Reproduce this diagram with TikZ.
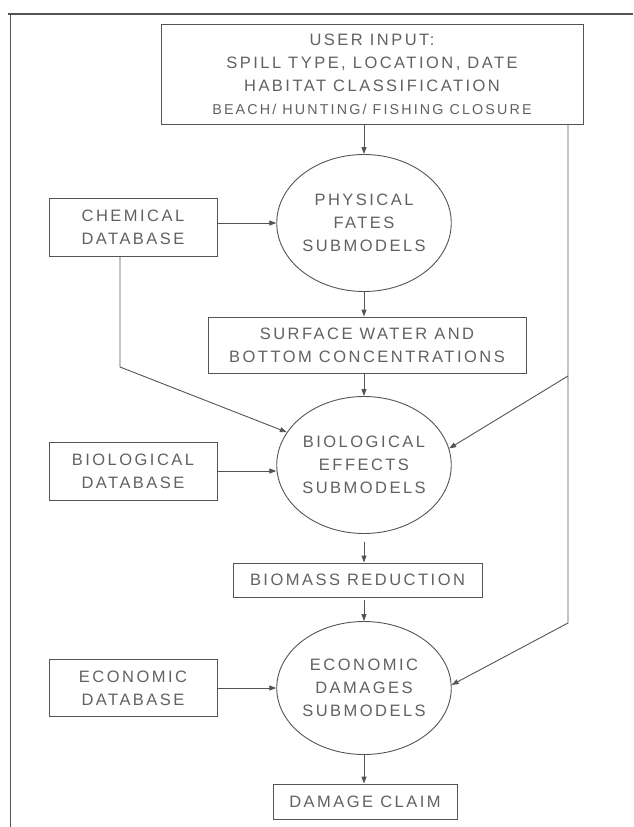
\documentclass[tikz,border=0pt]{standalone}
\usepackage{fontspec}
\setmainfont{Liberation Sans}[LetterSpace=15]
\usetikzlibrary{shapes.geometric, arrows.meta}

\definecolor{linegray}{gray}{0.33}
\definecolor{textgray}{gray}{0.38}

\begin{document}
\begin{tikzpicture}[
    x=1pt, y=-1pt,
    >={Triangle[length=7pt,width=5pt]},
    every node/.style={text=textgray, inner sep=0pt, align=center,
        font=\fontsize{16.5}{23}\selectfont},
    box/.style={draw=linegray, line width=0.9pt, rectangle},
    submodel/.style={draw=linegray, line width=0.9pt, ellipse,
        minimum width=167pt, minimum height=137pt},
    link/.style={->, draw=linegray, line width=0.9pt},
    frame/.style={draw=linegray, line width=1.6pt}
]
    \useasboundingbox (0,0) rectangle (633,827);

    % page frame (left and top only)
    \draw[frame] (8,14) -- (633,14);
    \draw[frame] (10.5,14) -- (10.5,827);

    % Input
    \node[box, minimum width=422pt, minimum height=100pt] (UserIn) at (372,74)
        {USER INPUT:\\ SPILL TYPE, LOCATION, DATE\\ HABITAT CLASSIFICATION\\
         {\fontsize{14.3}{22}\selectfont BEACH/ HUNTING/ FISHING CLOSURE}};

    % Centre column
    \node[submodel, below of=UserIn, node distance=149pt, xshift=-8pt] (Physical)
        {PHYSICAL\\ FATES\\ SUBMODELS};
    \node[box, minimum width=318pt, minimum height=56pt,
          below of=Physical, node distance=122pt, xshift=3pt] (Surface)
        {SURFACE WATER AND\\ BOTTOM CONCENTRATIONS};
    \node[submodel, below of=Surface, node distance=120pt, xshift=-3pt] (Biological)
        {BIOLOGICAL\\ EFFECTS\\ SUBMODELS};
    \node[box, minimum width=249pt, minimum height=34pt,
          below of=Biological, node distance=115pt, xshift=-6.5pt] (Biomass)
        {BIOMASS REDUCTION};
    \node[submodel, minimum height=133pt,
          below of=Biomass, node distance=108pt, xshift=6.5pt] (Economic)
        {ECONOMIC\\ DAMAGES\\ SUBMODELS};
    \node[box, minimum width=184pt, minimum height=35pt,
          below of=Economic, node distance=113.5pt, xshift=1pt] (Claim)
        {DAMAGE CLAIM};

    % Databases
    \node[box, minimum width=168pt, minimum height=58pt,
          left of=Physical, node distance=231pt, yshift=-4pt] (ChemDB)
        {CHEMICAL\\ DATABASE};
    \node[box, minimum width=168pt, minimum height=58pt,
          left of=Biological, node distance=231pt, yshift=-6pt] (BioDB)
        {BIOLOGICAL\\ DATABASE};
    \node[box, minimum width=168pt, minimum height=57pt,
          left of=Economic, node distance=231pt] (EconDB)
        {ECONOMIC\\ DATABASE};

    % bend points
    \coordinate (chemDrop) at ([xshift=-13pt]ChemDB.south);
    \coordinate (chemBend) at (120,367);
    \coordinate (fbX) at (568,0);
    \coordinate (fbBend1) at (568,376);
    \coordinate (fbBend2) at (568,623);

    % Main flow
    \draw[link] (UserIn.south -| Physical.north) -- (Physical.north);
    \draw[link] (Physical.south) -- (Physical.south |- Surface.north);
    \draw[link] (Surface.south -| Biological.north) -- (Biological.north);
    \draw[link, shorten <=8pt] (Biological.south) -- (Biological.south |- Biomass.north);
    \draw[link, shorten <=3pt] (Biomass.south -| Economic.north) -- (Economic.north);
    \draw[link] (Economic.south) -- (Economic.south |- Claim.north);

    % Database inputs
    \draw[link] (ChemDB.east |- Physical.west) -- (Physical.west);
    \draw[link] (chemDrop) -- (chemBend) -- (Biological.157);
    \draw[link] (BioDB.east) -- (BioDB.east -| Biological.west);
    \draw[link] (EconDB.east) -- (Economic.west);

    % User input feed to submodels
    \draw[link] (UserIn.south -| fbX) -- (fbBend2) -- (Economic.2);
    \draw[link] (fbBend1) -- (Biological.11);

\end{tikzpicture}
\end{document}
